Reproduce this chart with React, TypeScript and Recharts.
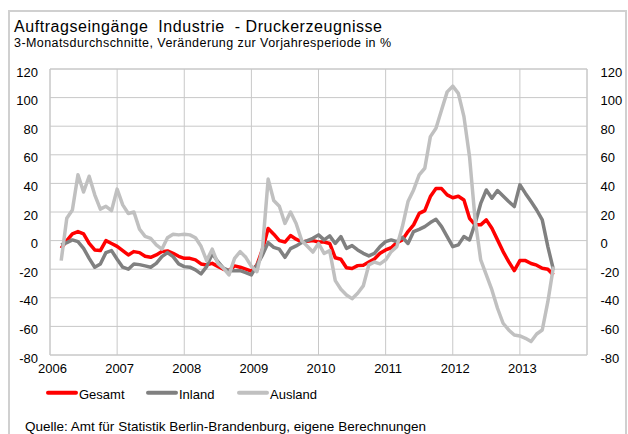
import { LineChart, Line, XAxis, YAxis, CartesianGrid, ReferenceLine } from "recharts";

// monthly values, March 2006 .. July 2013 (3-month averages, % vs. previous year)
const firstMonth = "2006-03";

const gesamt = [
  -5.4, 0, 4.7, 6.3, 4.7, -2, -6.5, -7, 0, -2,
  -4, -7, -10, -7.7, -8.4, -11, -11.7, -10, -7.7, -7.2, -8.9, -11,
  -12.4, -12.4, -13.5, -16.3, -17, -15.9, -18, -20, -21, -17.7, -18.6, -20,
  -21.4, -17, -6, 8.5, 4.5, 0, -1, 3.5, 1, -1, -0.5, 0,
  -1, -1, -2, -12, -13, -19, -19.5, -17.5, -17.2, -15, -12.8, -8.9,
  -6.5, -5, -1.4, 0.5, 6.3, 11, 19, 21, 30.8, 36.4, 36.4, 32,
  30, 31, 28.4, 15.6, 11, 11, 14.5, 8.6, 0.5, -7.7, -14.7, -21,
  -14, -14, -16, -17.2, -19.3, -20, -24,
];

const inland = [
  -3, -1.4, 0.5, -0.7, -5.4, -12.4, -18.6, -16.3, -8.4, -7,
  -13, -18.6, -20, -16.3, -16.8, -17.7, -18.6, -15.9, -11.2, -8.4, -11.2, -16.3,
  -18.2, -18.6, -20.5, -23.3, -18.2, -9, -14.7, -19.3, -21, -21, -21, -22.4,
  -24, -17, -10, -1.4, -4.7, -6, -11.7, -5.6, -3.7, -1.4, 0, 1.6,
  4, 0.5, 3.3, -2, 2.8, -5.4, -3.5, -6.5, -8.9, -10.7, -9, -4.2,
  -0.7, 0.5, -0.7, 2.3, -2, 6.3, 7.9, 9.8, 12.6, 14.9, 9.8, 2.8,
  -4.2, -3, 2.8, 0.5, 12, 26, 35.4, 29.6, 35, 31.2, 27.3, 23.8,
  39, 33, 27.3, 21.4, 14.5, -4.2, -20.5,
];

const ausland = [
  -14, 15.6, 21.4, 46, 34, 45, 32, 22, 24, 21,
  36, 25, 19, 20, 8, 3, 1.5, -3, -6, 2, 4.5, 4,
  4.5, 4, 2, -4, -14, -6, -15.9, -19.3, -24, -12.4, -7.7, -11.7,
  -18, -21.7, -5, 43, 28, 24, 12, 20, 12, 0, -4, -8,
  -2, -9, -7, -28, -34, -38, -40.6, -36.8, -31.7, -17, -15, -16.3,
  -13.5, -7.7, -4.2, 9.8, 27.3, 35.4, 46, 50.6, 72.7, 78.5, 91.4, 104,
  108, 103, 86.7, 58.7, 14.5, -13.5, -24, -34.5, -47.3, -57.8, -62.5, -66,
  -66.7, -68.3, -70.6, -65.3, -62.5, -42.7, -18.2,
];

const yearTicks = [2006, 2007, 2008, 2009, 2010, 2011, 2012, 2013, 2014];
const yearLabels = ["2006", "2007", "2008", "2009", "2010", "2011", "2012", "2013", ""];
const valueTicks = [-80, -60, -40, -20, 0, 20, 40, 60, 80, 100, 120];

const seriesNames = ["Gesamt", "Inland", "Ausland"];
const seriesColors = ["#ff0000", "#808080", "#c0c0c0"];

const FONT = "'Liberation Sans', Arial, Helvetica, sans-serif";
const GRID = "#c8c8c8";

const [y0, m0] = firstMonth.split("-").map(Number);
const firstIndex = (y0 - 2006) * 12 + (m0 - 1);

const data = gesamt.map((v, i) => ({
  t: firstIndex + i,
  gesamt: v,
  inland: inland[i],
  ausland: ausland[i],
}));

const xTicks = yearTicks.map((y) => (y - 2006) * 12);

function XTick({ x, y, payload }: any) {
  const label = yearLabels[xTicks.indexOf(payload.value)];
  if (!label) return <g />;
  return (
    <text x={x + 2.5} y={y} dy={18.3} textAnchor="middle" fontSize={13} fontFamily={FONT} fill="#000">
      {label}
    </text>
  );
}

function LeftTick({ x, y, payload }: any) {
  return (
    <text x={x} y={y} dy={7.5} textAnchor="end" fontSize={13} fontFamily={FONT} fill="#000">
      {payload.value}
    </text>
  );
}

function RightTick({ x, y, payload }: any) {
  return (
    <text x={x} y={y} dy={7.5} textAnchor="start" fontSize={13} fontFamily={FONT} fill="#000">
      {payload.value}
    </text>
  );
}

export default function App() {
  const legendX = [46, 146, 237];
  return (
    <div
      style={{
        position: "absolute",
        left: 0,
        top: 0,
        width: 628,
        height: 434,
        background: "#fff",
        overflow: "hidden",
        fontFamily: FONT,
      }}
    >
      <div
        style={{
          position: "absolute",
          left: 8,
          top: 10,
          width: 615,
          height: 440,
          borderLeft: "2px solid #d0d0d0",
          borderTop: "2px solid #d0d0d0",
          borderRight: "2px solid #d0d0d0",
        }}
      />
      <div style={{ position: "absolute", left: 0, top: 0 }}>
        <LineChart width={628} height={434} data={data} margin={{ top: 69, right: 0, bottom: 0, left: 0 }}>
          <CartesianGrid yAxisId="left" stroke={GRID} strokeWidth={1} />
          <XAxis
            type="number"
            dataKey="t"
            domain={[0, 96]}
            ticks={xTicks}
            height={79}
            axisLine={false}
            tickLine={false}
            tickSize={0}
            tickMargin={0}
            tick={<XTick />}
            interval={0}
          />
          <YAxis
            yAxisId="left"
            orientation="left"
            domain={[-80, 120]}
            ticks={valueTicks}
            width={50}
            axisLine={false}
            tickLine={false}
            tickSize={0}
            tickMargin={12}
            tick={<LeftTick />}
            interval={0}
          />
          <YAxis
            yAxisId="right"
            orientation="right"
            domain={[-80, 120]}
            ticks={valueTicks}
            width={41}
            axisLine={false}
            tickLine={false}
            tickSize={0}
            tickMargin={13.5}
            tick={<RightTick />}
            interval={0}
          />
          {/* plot frame */}
          <ReferenceLine yAxisId="left" x={xTicks[0]} stroke={GRID} />
          <ReferenceLine yAxisId="left" x={xTicks[xTicks.length - 1]} stroke={GRID} />
          <ReferenceLine yAxisId="left" y={valueTicks[0]} stroke={GRID} />
          <ReferenceLine yAxisId="left" y={valueTicks[valueTicks.length - 1]} stroke={GRID} />
          <Line yAxisId="left" type="linear" dataKey="gesamt" name={seriesNames[0]} stroke={seriesColors[0]}
            strokeWidth={3.5} strokeLinejoin="round" dot={false} activeDot={false} isAnimationActive={false} />
          <Line yAxisId="left" type="linear" dataKey="inland" name={seriesNames[1]} stroke={seriesColors[1]}
            strokeWidth={3.5} strokeLinejoin="round" dot={false} activeDot={false} isAnimationActive={false} />
          <Line yAxisId="right" type="linear" dataKey="ausland" name={seriesNames[2]} stroke={seriesColors[2]}
            strokeWidth={3.5} strokeLinejoin="round" dot={false} activeDot={false} isAnimationActive={false} />
        </LineChart>
      </div>
      <svg
        width={628}
        height={434}
        style={{ position: "absolute", left: 0, top: 0, pointerEvents: "none" }}
        fontFamily={FONT}
      >
        <text x={14} y={31.5} fontSize={16} fill="#000" textLength={368} lengthAdjust="spacing" style={{ whiteSpace: "pre" }}>
          {"Auftragseingänge  Industrie  - Druckerzeugnisse"}
        </text>
        <text x={14} y={47.3} fontSize={12.5} fill="#000" textLength={377} lengthAdjust="spacing">
          3-Monatsdurchschnitte, Veränderung zur Vorjahresperiode in %
        </text>
        {seriesNames.map((name, i) => (
          <g key={name}>
            <line x1={legendX[i] + 2} x2={legendX[i] + 30} y1={392.7} y2={392.7} stroke={seriesColors[i]}
              strokeWidth={4} strokeLinecap="round" />
            <text x={legendX[i] + 33} y={399.3} fontSize={13} fill="#000">
              {name}
            </text>
          </g>
        ))}
        <text x={25} y={430.7} fontSize={13.5} fill="#000" textLength={401} lengthAdjust="spacing">
          Quelle: Amt für Statistik Berlin-Brandenburg, eigene Berechnungen
        </text>
      </svg>
    </div>
  );
}
